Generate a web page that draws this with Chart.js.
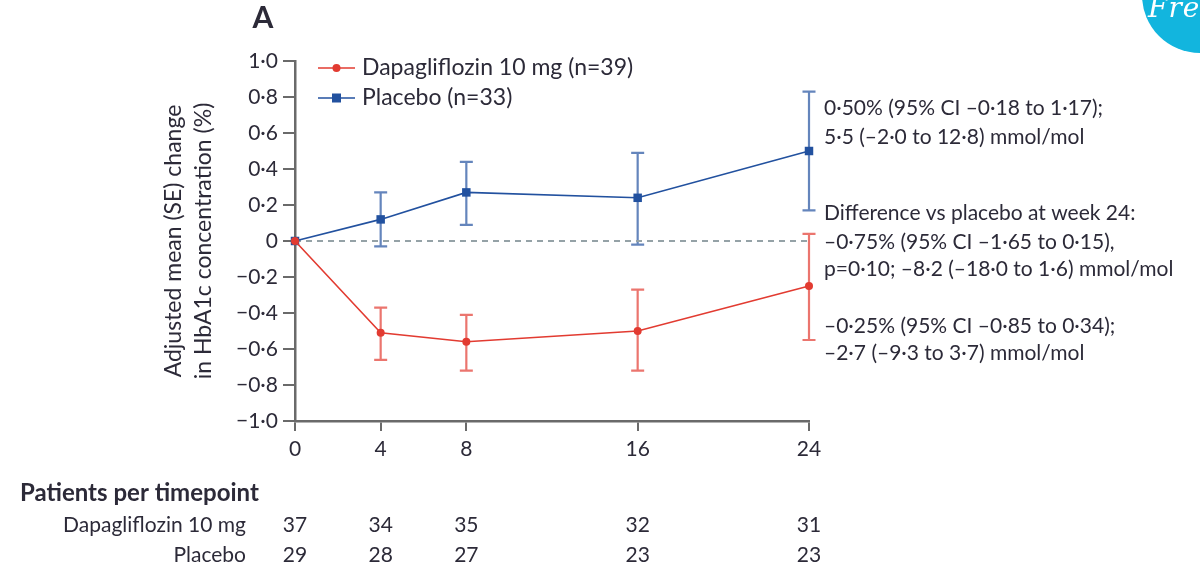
<!DOCTYPE html>
<html>
<head>
<meta charset="utf-8">
<script src="https://cdn.jsdelivr.net/npm/chart.js@4.4.0/dist/chart.umd.min.js"></script>
<style>
    html, body { margin: 0; padding: 0; background: #fff; overflow: hidden; }
    #wrap { position: relative; width: 1200px; height: 573px; }
    #badge { position: absolute; left: 1142px; top: -63px; width: 116px; height: 116px;
             border-radius: 50%; background: #12b5de; overflow: hidden; }
    #badge span { position: absolute; left: 6px; top: 54px; color: #fff;
                  font: italic 28px 'DejaVu Serif', serif; letter-spacing: 1px; }
</style>
</head>
<body>
<div id="wrap">
    <canvas id="hba1cChart" width="1200" height="573"></canvas>
    <div id="badge"><span>Fre</span></div>
</div>
<script>
// Weeks and adjusted mean (SE) change in HbA1c
const weeks = [0, 4, 8, 16, 24];
const dapaMean = [0, -0.51, -0.56, -0.50, -0.25];
const dapaLow  = [0, -0.66, -0.72, -0.72, -0.55];
const dapaHigh = [0, -0.37, -0.41, -0.27, 0.04];
const placMean = [0, 0.12, 0.27, 0.24, 0.50];
const placLow  = [0, -0.03, 0.09, -0.02, 0.17];
const placHigh = [0, 0.27, 0.44, 0.49, 0.83];

// Patients per timepoint
const dapaN = [37, 34, 35, 32, 31];
const placN = [29, 28, 27, 23, 23];

const legendLabels = ['Dapagliflozin 10 mg (n=39)', 'Placebo (n=33)'];
const notes = [
    '0·50% (95% CI –0·18 to 1·17);',
    '5·5 (–2·0 to 12·8) mmol/mol',
    'Difference vs placebo at week 24:',
    '–0·75% (95% CI –1·65 to 0·15),',
    'p=0·10; –8·2 (–18·0 to 1·6) mmol/mol',
    '–0·25% (95% CI –0·85 to 0·34);',
    '–2·7 (–9·3 to 3·7) mmol/mol'
];

const RED = '#e23b31';
const BLUE = '#22519f';
const TEXT = '#2c2a38';
const AXIS = '#6a6a6a';
const FONT = 'Lato';

const toXY = (vals) => weeks.map((w, i) => ({ x: w, y: vals[i] }));

function fmt(v) {
    const r = Math.round(v * 10) / 10;
    if (r === 0) return '0';
    return (r < 0 ? '−' : '') + Math.abs(r).toFixed(1).replace('.', '·');
}

// Error bars drawn under the lines
const errorBars = {
    id: 'errorBars',
    beforeDatasetsDraw(chart) {
        const { ctx, scales: { x, y } } = chart;
        [[dapaLow, dapaHigh, 'rgba(226, 59, 49, 0.7)'], [placLow, placHigh, 'rgba(34, 81, 159, 0.7)']].forEach(([lo, hi, col]) => {
            ctx.save();
            ctx.strokeStyle = col;
            ctx.lineWidth = 2.2;
            weeks.forEach((w, i) => {
                if (lo[i] === hi[i]) return;
                const px = x.getPixelForValue(w);
                const y1 = y.getPixelForValue(lo[i]);
                const y2 = y.getPixelForValue(hi[i]);
                ctx.beginPath();
                ctx.moveTo(px, y1); ctx.lineTo(px, y2);
                ctx.moveTo(px - 6.5, y1); ctx.lineTo(px + 6.5, y1);
                ctx.moveTo(px - 6.5, y2); ctx.lineTo(px + 6.5, y2);
                ctx.stroke();
            });
            ctx.restore();
        });
    }
};

// Legend, panel letter, notes and patient table
const extras = {
    id: 'extras',
    afterDraw(chart) {
        const { ctx, chartArea: area, scales: { x } } = chart;
        ctx.save();
        ctx.fillStyle = TEXT;
        ctx.textBaseline = 'middle';

        ctx.font = 'bold 30px ' + FONT;
        ctx.textAlign = 'center';
        ctx.fillText('A', 263, 18);

        // legend
        const lx = area.left + 23;
        [[RED, 'circle', 68], [BLUE, 'rect', 98]].forEach(([col, shape, ly], k) => {
            ctx.strokeStyle = col;
            ctx.fillStyle = col;
            ctx.lineWidth = 1.6;
            ctx.beginPath();
            ctx.moveTo(lx, ly); ctx.lineTo(lx + 37, ly);
            ctx.stroke();
            if (shape === 'circle') {
                ctx.beginPath(); ctx.arc(lx + 18.5, ly, 4, 0, Math.PI * 2); ctx.fill();
            } else {
                ctx.fillRect(lx + 14, ly - 4.5, 9, 9);
            }
            ctx.fillStyle = TEXT;
            ctx.font = '23px ' + FONT;
            ctx.textAlign = 'left';
            ctx.fillText(legendLabels[k], lx + 44, ly);
        });

        // notes next to week 24
        const nx = x.getPixelForValue(24) + 15;
        const ny = [108, 137, 213, 242, 269, 326, 353];
        ctx.font = '21px ' + FONT;
        ctx.textAlign = 'left';
        notes.forEach((t, i) => ctx.fillText(t, nx, ny[i]));

        // patients per timepoint
        ctx.font = 'bold 24px ' + FONT;
        ctx.fillText('Patients per timepoint', 20, 493);
        ctx.font = '21px ' + FONT;
        ctx.textAlign = 'right';
        ctx.fillText('Dapagliflozin 10 mg', 246, 525);
        ctx.fillText('Placebo', 246, 555);
        ctx.textAlign = 'center';
        weeks.forEach((w, i) => {
            const px = x.getPixelForValue(w);
            ctx.fillText(String(dapaN[i]), px, 525);
            ctx.fillText(String(placN[i]), px, 555);
        });
        ctx.restore();
    }
};

const config = {
    type: 'line',
    data: {
        datasets: [
            {
                label: legendLabels[0],
                data: toXY(dapaMean),
                borderColor: RED,
                backgroundColor: RED,
                borderWidth: 1.6,
                pointStyle: 'circle',
                pointRadius: 4,
                pointBorderWidth: 0,
                tension: 0,
                clip: false
            },
            {
                label: legendLabels[1],
                data: toXY(placMean),
                borderColor: BLUE,
                backgroundColor: BLUE,
                borderWidth: 1.6,
                pointStyle: 'rect',
                pointRadius: 6,
                pointBorderWidth: 0,
                tension: 0,
                clip: false
            },
            {
                label: 'zero',
                data: [{ x: 0, y: 0 }, { x: 24, y: 0 }],
                borderColor: '#95a2a7',
                borderWidth: 2,
                borderDash: [6, 5],
                pointRadius: 0,
                order: 5
            }
        ]
    },
    options: {
        responsive: false,
        animation: false,
        layout: { padding: { left: 0, right: 391, top: 61, bottom: 112 } },
        plugins: {
            legend: { display: false },
            tooltip: { enabled: false }
        },
        scales: {
            x: {
                type: 'linear',
                min: 0,
                max: 24,
                afterBuildTicks: (axis) => { axis.ticks = weeks.map(v => ({ value: v })); },
                afterFit: (axis) => { axis.height = 40; },
                border: { color: AXIS, width: 2.5 },
                grid: { drawOnChartArea: false, tickLength: 10, color: AXIS, lineWidth: 2 },
                ticks: {
                    color: TEXT,
                    padding: 6,
                    maxRotation: 0,
                    font: { family: FONT, size: 21 },
                    callback: (v) => String(v)
                }
            },
            y: {
                min: -1,
                max: 1,
                afterFit: (axis) => { axis.width = 295; },
                border: { color: AXIS, width: 2.5 },
                grid: { drawOnChartArea: false, tickLength: 12, color: AXIS, lineWidth: 2 },
                ticks: {
                    stepSize: 0.2,
                    color: TEXT,
                    padding: 5,
                    font: { family: FONT, size: 21 },
                    callback: (v) => fmt(v)
                },
                title: {
                    display: true,
                    text: ['Adjusted mean (SE) change', 'in HbA1c concentration (%)'],
                    color: TEXT,
                    font: { family: FONT, size: 23, lineHeight: '30px' },
                    padding: { top: 159, bottom: 0 }
                }
            }
        }
    },
    plugins: [errorBars, extras]
};

const ctx = document.getElementById('hba1cChart').getContext('2d');
const myChart = new Chart(ctx, config);
</script>
</body>
</html>
